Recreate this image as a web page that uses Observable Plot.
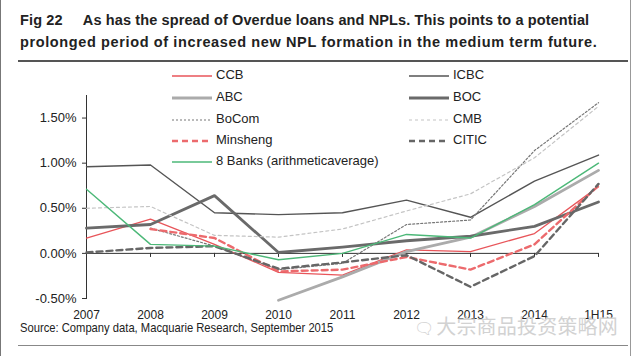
<!DOCTYPE html>
<html><head><meta charset="utf-8">
<script src="https://cdn.jsdelivr.net/npm/d3@7"></script>
<script src="https://cdn.jsdelivr.net/npm/@observablehq/plot@0.6"></script>
<style>
body{margin:0;width:640px;height:356px;position:relative;overflow:hidden;background:#fff;font-family:"Liberation Sans",Arial,sans-serif;color:#222;}
.abs{position:absolute;}
#title{left:20px;top:9px;font-weight:bold;font-size:14.5px;line-height:22px;white-space:nowrap;}
#t1{letter-spacing:0.12px;}
#t2{letter-spacing:0.62px;}
#rule1{left:18px;top:60px;width:610px;height:2px;background:#555;}
#rule2{left:18px;top:345px;width:610px;height:1px;background:#888;}
#bl{left:0;top:0;width:1px;height:356px;background:#777;}
#br{left:630px;top:0;width:1px;height:356px;background:#999;}
#chart{left:0;top:62px;}
#source{left:20px;top:320px;font-size:13px;white-space:nowrap;transform:scaleX(0.862);transform-origin:0 0;}
#wm{left:414px;top:311px;font-size:20px;color:#d2d2d2;font-family:"Noto Sans CJK SC",sans-serif;white-space:nowrap;letter-spacing:0.2px;}
#wm .ic{font-size:16px;margin-right:2px;}
.leg{position:absolute;font-size:13px;white-space:nowrap;height:20px;line-height:20px;}
.leg svg{vertical-align:middle;margin-right:4px;}
</style>
</head><body>
<div id="bl" class="abs"></div><div id="br" class="abs"></div>
<div id="title" class="abs"><span id="t1">Fig 22&nbsp;&nbsp;&nbsp;&nbsp; As has the spread of Overdue loans and NPLs. This points to a potential</span><br><span id="t2">prolonged period of increased new NPL formation in the medium term future.</span></div>
<div id="rule1" class="abs"></div>
<div id="chart" class="abs"></div>
<div id="legend"></div>
<div id="source" class="abs">Source: Company data, Macquarie Research, September 2015</div>
<div id="wm" class="abs"><span class="ic">&#x1F5E8;</span>大宗商品投资策略网</div>
<div id="rule2" class="abs"></div>
<script>
const years = ["2007","2008","2009","2010","2011","2012","2013","2014","1H15"];
const yTicks = [-0.5, 0, 0.5, 1.0, 1.5];
const seriesNames = ["CCB","ICBC","ABC","BOC","BoCom","CMB","Minsheng","CITIC","8 Banks (arithmeticaverage)"];
const CCB      = [0.17, 0.38, 0.10, -0.21, -0.24, 0.04, 0.02, 0.22, 0.74];
const ICBC     = [0.96, 0.98, 0.45, 0.43, 0.45, 0.59, 0.40, 0.80, 1.09];
const ABC      = [null, null, null, -0.52, -0.26, 0.02, 0.18, 0.52, 0.92];
const BOC      = [0.28, 0.32, 0.64, 0.01, 0.07, 0.14, 0.19, 0.30, 0.57];
const BoCom    = [null, 0.28, 0.08, -0.18, -0.11, 0.32, 0.37, 1.14, 1.67];
const CMB      = [0.50, 0.52, 0.20, 0.18, 0.27, 0.47, 0.66, 1.06, 1.63];
const Minsheng = [null, 0.27, 0.17, -0.20, -0.18, -0.04, -0.18, 0.10, 0.75];
const CITIC    = [0.01, 0.06, 0.08, -0.17, -0.10, -0.02, -0.37, -0.03, 0.77];
const Banks8   = [0.71, 0.10, 0.08, -0.07, 0.00, 0.21, 0.17, 0.54, 1.00];

const values = [CCB, ICBC, ABC, BOC, BoCom, CMB, Minsheng, CITIC, Banks8];
const styles = [
  {stroke:"#e8555a", strokeWidth:1.3, dash:null},
  {stroke:"#555555", strokeWidth:1.4, dash:null},
  {stroke:"#ababab", strokeWidth:2.8, dash:null},
  {stroke:"#6a6a6a", strokeWidth:2.8, dash:null},
  {stroke:"#777777", strokeWidth:1.2, dash:"2,2"},
  {stroke:"#c4c4c4", strokeWidth:1.2, dash:"3,3"},
  {stroke:"#ec6a6d", strokeWidth:2.4, dash:"6,4"},
  {stroke:"#666666", strokeWidth:2.4, dash:"6,4"},
  {stroke:"#4cb878", strokeWidth:1.4, dash:null}
];

const lineMarks = seriesNames.map((name, i) => {
  const data = years.map((yr, j) => ({year: yr, v: values[i][j]})).filter(d => d.v != null);
  return Plot.line(data, {x: "year", y: "v", stroke: styles[i].stroke, strokeWidth: styles[i].strokeWidth,
    strokeDasharray: styles[i].dash || undefined, curve: "linear"});
});

const plot = Plot.plot({
  width: 640, height: 262,
  marginLeft: 86, marginRight: 42, marginTop: 33, marginBottom: 26,
  style: {fontFamily: "'Liberation Sans', Arial, sans-serif", fontSize: "13px", color: "#222", background: "transparent", overflow: "visible"},
  x: {type: "point", domain: years, padding: 0},
  y: {domain: [-0.5, 1.75]},
  marks: [
    Plot.frame({anchor: "left", stroke: "#333"}),
    Plot.axisY(yTicks, {tickSize: 4, tickPadding: 6, tickFormat: d => d.toFixed(2) + "%", label: null, stroke: "#333", fontSize: 13}),
    Plot.axisX({tickSize: 0, tickPadding: 12, label: null, fontSize: 12}),
    Plot.ruleY([0], {stroke: "#333"}),
    Plot.ruleX(years.slice(1), {x: d => d, y1: 0, y2: -0.045, stroke: "#333"}),
    ...lineMarks
  ]
});
document.getElementById("chart").appendChild(plot);

// legend
const legPos = [[172,75],[409,75],[172,97],[409,97],[172,119],[409,119],[172,140],[409,140],[172,161]];
const legend = document.getElementById("legend");
seriesNames.forEach((name, i) => {
  const s = styles[i];
  const div = document.createElement("div");
  div.className = "leg";
  div.style.left = legPos[i][0] + "px";
  div.style.top = (legPos[i][1] - 10) + "px";
  div.innerHTML = `<svg width="40" height="8"><line x1="0" y1="4" x2="40" y2="4" stroke="${s.stroke}" stroke-width="${s.strokeWidth}" ${s.dash ? `stroke-dasharray="${s.dash}"` : ""}/></svg>${name}`;
  legend.appendChild(div);
});
</script>
</body></html>
